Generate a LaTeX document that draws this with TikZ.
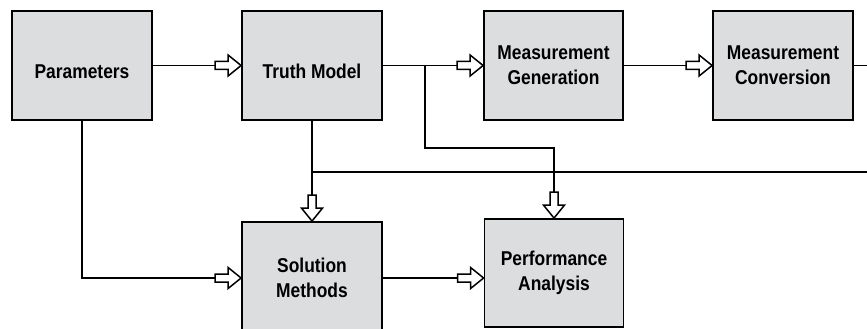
\documentclass[tikz,border=0pt]{standalone}
\usepackage{fontspec}
\setmainfont{Liberation Sans}[FakeStretch=0.87]
\definecolor{boxgray}{RGB}{220,221,223}

\begin{document}
\begin{tikzpicture}[x=1pt,y=-1pt,
    box/.style={draw,line width=1.8pt,fill=boxgray,minimum width=140pt,
        inner sep=0pt,align=center,font=\fontsize{20}{25}\selectfont\bfseries},
    oneline/.style={text height=25pt,text depth=0pt},
    link/.style={line width=1.5pt},
    hollowhead/.pic={
        \draw[line width=1.5pt,fill=white,line join=miter]
            (0pt,0pt) -- (-13pt,10.5pt) -- (-13pt,4pt) -- (-26pt,4pt)
            -- (-26pt,-4pt) -- (-13pt,-4pt) -- (-13pt,-10.5pt) -- cycle;
    }]
    % Frame of the picture
    \clip (0,0) rectangle (867,329);

    % Top row of blocks
    \node[box,oneline,minimum height=109pt] (par) at (82,65.5) {Parameters};
    \node[box,oneline,minimum height=109pt] (truth) at (312,65.5) {Truth Model};
    \node[box,minimum height=109pt,minimum width=139pt] (mgen) at (553.5,65.5) {Measurement\\Generation};
    \node[box,minimum height=109pt] (mconv) at (783,65.5) {Measurement\\Conversion};

    % Bottom row of blocks
    \node[box,minimum height=112pt] (sol) at (312,278) {Solution\\Methods};
    \node[box,minimum height=108pt,minimum width=139pt] (perf) at (554,273) {Performance\\Analysis};

    % Free ends and bends
    \coordinate (outR) at (867,65.5);
    \coordinate (fbR) at (867,172);
    \coordinate (tap) at (425,65.5);
    \coordinate (lvl) at (0,148);

    % Connectors along the top
    \draw[link] (par) -- (truth);
    \draw[link] (truth) -- (mgen);
    \draw[link] (mgen) -- (mconv);
    \draw[link] (mconv) -- (outR);

    % Connectors down to the bottom row
    \draw[link] (truth.south) -- (sol.north);
    \draw[link] (fbR) -- (truth.south |- fbR);
    \draw[link] (tap) |- (perf.north |- lvl) -- (perf.north);
    \draw[link] (par.south) |- (sol.west);
    \draw[link] (sol.east) -- (sol.east -| perf.west);

    % Hollow arrow heads
    \pic at (truth.west) {hollowhead};
    \pic at (mgen.west) {hollowhead};
    \pic at (mconv.west) {hollowhead};
    \pic at (sol.west) {hollowhead};
    \pic at (sol.east -| perf.west) {hollowhead};
    \pic[rotate=-90] at (sol.north) {hollowhead};
    \pic[rotate=-90] at (perf.north) {hollowhead};
\end{tikzpicture}
\end{document}
